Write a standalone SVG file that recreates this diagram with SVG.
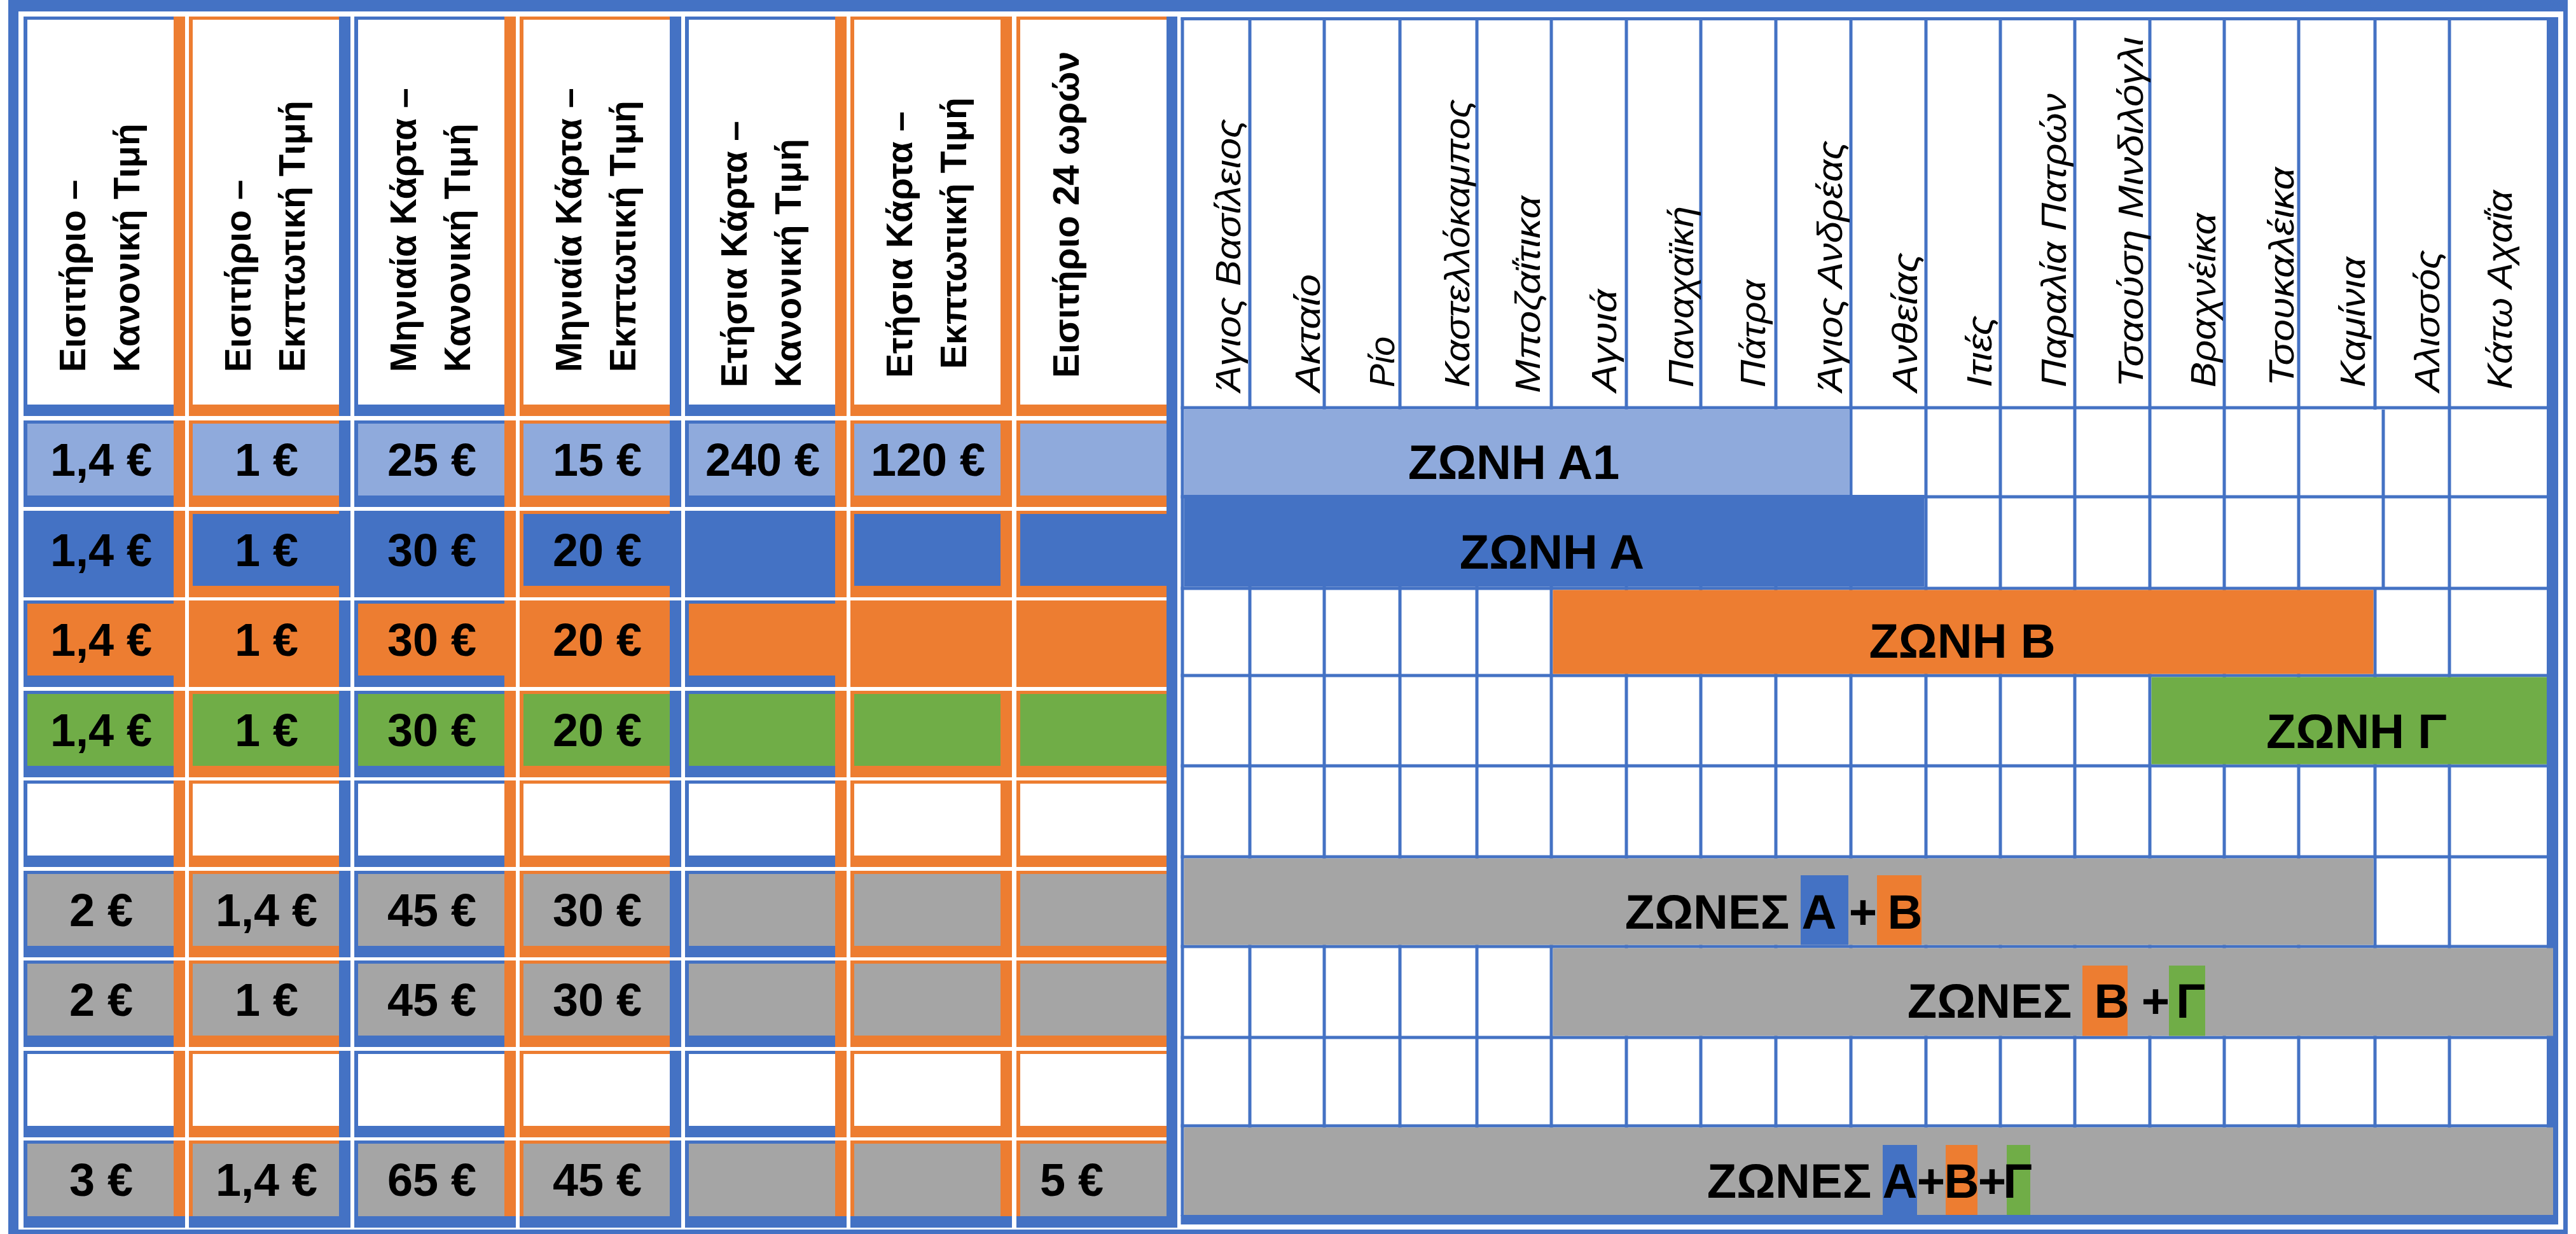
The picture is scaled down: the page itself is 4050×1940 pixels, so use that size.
<svg xmlns="http://www.w3.org/2000/svg" width="4050" height="1940" viewBox="0 0 4050 1940">
<style>
.b{fill:#4472C4}.o{fill:#ED7D31}.lb{fill:#8FAADC}.g{fill:#70AD47}.gy{fill:#A5A5A5}.w{fill:#FFFFFF}
.hd{font-family:"Liberation Sans","Noto Sans",sans-serif;font-weight:bold;font-size:57px;fill:#000}
.num{font-family:"Liberation Sans","Noto Sans",sans-serif;font-weight:bold;font-size:72px;fill:#000;text-anchor:middle}
.st{font-family:"Liberation Sans","Noto Sans",sans-serif;font-style:italic;font-size:56px;fill:#000}
.zl{font-family:"Liberation Sans","Noto Sans",sans-serif;font-weight:bold;font-size:76px;fill:#000;text-anchor:middle}
</style>
<rect width="4050" height="1940" fill="#FFFFFF"/>
<g id="frame">
<rect class="b" x="13" y="0" width="4024" height="18"/>
<rect class="b" x="13" y="0" width="16" height="1940"/>
<rect class="b" x="13" y="1933" width="4024" height="7"/>
<rect class="b" x="4030" y="0" width="7" height="1940"/>
</g>
<g id="left-table">
<g id="col1">
<rect class="b" x="37" y="26" width="254" height="1904"/>
<rect class="o" x="273" y="26" width="18" height="1904"/>
<rect class="w" x="43" y="31" width="230" height="605"/>
<rect class="lb" x="43" y="666" width="230" height="113"/>
<rect class="b" x="43" y="808" width="230" height="113"/>
<rect class="o" x="43" y="949" width="230" height="113"/>
<rect class="g" x="43" y="1091" width="230" height="113"/>
<rect class="w" x="43" y="1232" width="230" height="113"/>
<rect class="gy" x="43" y="1374" width="230" height="113"/>
<rect class="gy" x="43" y="1515" width="230" height="113"/>
<rect class="w" x="43" y="1657" width="230" height="113"/>
<rect class="gy" x="43" y="1798" width="230" height="114"/>
<rect class="b" x="37" y="1912" width="254" height="18"/>
</g>
<g id="col2">
<rect class="o" x="297" y="26" width="254" height="1904"/>
<rect class="b" x="533" y="26" width="18" height="1904"/>
<rect class="w" x="303" y="31" width="230" height="605"/>
<rect class="lb" x="303" y="666" width="230" height="113"/>
<rect class="b" x="303" y="808" width="230" height="113"/>
<rect class="o" x="303" y="949" width="230" height="113"/>
<rect class="g" x="303" y="1091" width="230" height="113"/>
<rect class="w" x="303" y="1232" width="230" height="113"/>
<rect class="gy" x="303" y="1374" width="230" height="113"/>
<rect class="gy" x="303" y="1515" width="230" height="113"/>
<rect class="w" x="303" y="1657" width="230" height="113"/>
<rect class="gy" x="303" y="1798" width="230" height="114"/>
<rect class="b" x="297" y="1912" width="254" height="18"/>
</g>
<g id="col3">
<rect class="b" x="557" y="26" width="254" height="1904"/>
<rect class="o" x="793" y="26" width="18" height="1904"/>
<rect class="w" x="563" y="31" width="230" height="605"/>
<rect class="lb" x="563" y="666" width="230" height="113"/>
<rect class="b" x="563" y="808" width="230" height="113"/>
<rect class="o" x="563" y="949" width="230" height="113"/>
<rect class="g" x="563" y="1091" width="230" height="113"/>
<rect class="w" x="563" y="1232" width="230" height="113"/>
<rect class="gy" x="563" y="1374" width="230" height="113"/>
<rect class="gy" x="563" y="1515" width="230" height="113"/>
<rect class="w" x="563" y="1657" width="230" height="113"/>
<rect class="gy" x="563" y="1798" width="230" height="114"/>
<rect class="b" x="557" y="1912" width="254" height="18"/>
</g>
<g id="col4">
<rect class="o" x="817" y="26" width="254" height="1904"/>
<rect class="b" x="1053" y="26" width="18" height="1904"/>
<rect class="w" x="823" y="31" width="230" height="605"/>
<rect class="lb" x="823" y="666" width="230" height="113"/>
<rect class="b" x="823" y="808" width="230" height="113"/>
<rect class="o" x="823" y="949" width="230" height="113"/>
<rect class="g" x="823" y="1091" width="230" height="113"/>
<rect class="w" x="823" y="1232" width="230" height="113"/>
<rect class="gy" x="823" y="1374" width="230" height="113"/>
<rect class="gy" x="823" y="1515" width="230" height="113"/>
<rect class="w" x="823" y="1657" width="230" height="113"/>
<rect class="gy" x="823" y="1798" width="230" height="114"/>
<rect class="b" x="817" y="1912" width="254" height="18"/>
</g>
<g id="col5">
<rect class="b" x="1077" y="26" width="254" height="1904"/>
<rect class="o" x="1313" y="26" width="18" height="1904"/>
<rect class="w" x="1083" y="31" width="230" height="605"/>
<rect class="lb" x="1083" y="666" width="230" height="113"/>
<rect class="b" x="1083" y="808" width="230" height="113"/>
<rect class="o" x="1083" y="949" width="230" height="113"/>
<rect class="g" x="1083" y="1091" width="230" height="113"/>
<rect class="w" x="1083" y="1232" width="230" height="113"/>
<rect class="gy" x="1083" y="1374" width="230" height="113"/>
<rect class="gy" x="1083" y="1515" width="230" height="113"/>
<rect class="w" x="1083" y="1657" width="230" height="113"/>
<rect class="gy" x="1083" y="1798" width="230" height="114"/>
<rect class="b" x="1077" y="1912" width="254" height="18"/>
</g>
<g id="col6">
<rect class="o" x="1337" y="26" width="254" height="1904"/>
<rect class="w" x="1343" y="31" width="230" height="605"/>
<rect class="lb" x="1343" y="666" width="230" height="113"/>
<rect class="b" x="1343" y="808" width="230" height="113"/>
<rect class="o" x="1343" y="949" width="230" height="113"/>
<rect class="g" x="1343" y="1091" width="230" height="113"/>
<rect class="w" x="1343" y="1232" width="230" height="113"/>
<rect class="gy" x="1343" y="1374" width="230" height="113"/>
<rect class="gy" x="1343" y="1515" width="230" height="113"/>
<rect class="w" x="1343" y="1657" width="230" height="113"/>
<rect class="gy" x="1343" y="1798" width="230" height="114"/>
<rect class="b" x="1337" y="1912" width="254" height="18"/>
</g>
<g id="col7">
<rect class="o" x="1598" y="26" width="236" height="1904"/>
<rect class="w" x="1604" y="31" width="230" height="605"/>
<rect class="lb" x="1604" y="666" width="230" height="113"/>
<rect class="b" x="1604" y="808" width="230" height="113"/>
<rect class="o" x="1604" y="949" width="230" height="113"/>
<rect class="g" x="1604" y="1091" width="230" height="113"/>
<rect class="w" x="1604" y="1232" width="230" height="113"/>
<rect class="gy" x="1604" y="1374" width="230" height="113"/>
<rect class="gy" x="1604" y="1515" width="230" height="113"/>
<rect class="w" x="1604" y="1657" width="230" height="113"/>
<rect class="gy" x="1604" y="1798" width="230" height="114"/>
<rect class="b" x="1598" y="1912" width="236" height="18"/>
</g>
<g id="row-gaps" fill="#FFFFFF">
<rect x="30" y="654" width="1804" height="7"/>
<rect x="30" y="797" width="1804" height="6"/>
<rect x="30" y="939" width="1804" height="5"/>
<rect x="30" y="1080" width="1804" height="6"/>
<rect x="30" y="1222" width="1804" height="5"/>
<rect x="30" y="1363" width="1804" height="6"/>
<rect x="30" y="1505" width="1804" height="5"/>
<rect x="30" y="1646" width="1804" height="6"/>
<rect x="30" y="1788" width="1804" height="5"/>
</g>
<rect id="separator" class="b" x="1834" y="26" width="17" height="1904"/>
<g id="left-headers">
<text class="hd" transform="translate(134,585) rotate(-90)">Εισιτήριο –</text>
<text class="hd" transform="translate(219,585) rotate(-90)">Κανονική Τιμή</text>
<text class="hd" transform="translate(394,585) rotate(-90)">Εισιτήριο –</text>
<text class="hd" transform="translate(479,585) rotate(-90)">Εκπτωτική Τιμή</text>
<text class="hd" transform="translate(654,585) rotate(-90)">Μηνιαία Κάρτα –</text>
<text class="hd" transform="translate(739,585) rotate(-90)">Κανονική Τιμή</text>
<text class="hd" transform="translate(914,585) rotate(-90)">Μηνιαία Κάρτα –</text>
<text class="hd" transform="translate(999,585) rotate(-90)">Εκπτωτική Τιμή</text>
<text class="hd" transform="translate(1174,609) rotate(-90)">Ετήσια Κάρτα –</text>
<text class="hd" transform="translate(1259,609) rotate(-90)">Κανονική Τιμή</text>
<text class="hd" transform="translate(1434,594) rotate(-90)">Ετήσια Κάρτα –</text>
<text class="hd" transform="translate(1519,580) rotate(-90)">Εκπτωτική Τιμή</text>
<text class="hd" transform="translate(1696,594) rotate(-90)">Εισιτήριο 24 ωρών</text>
</g>
<g id="left-values">
<text class="num" x="159" y="748">1,4 €</text>
<text class="num" x="419" y="748">1 €</text>
<text class="num" x="679" y="748">25 €</text>
<text class="num" x="939" y="748">15 €</text>
<text class="num" x="1199" y="748">240 €</text>
<text class="num" x="1459" y="748">120 €</text>
<text class="num" x="159" y="890">1,4 €</text>
<text class="num" x="419" y="890">1 €</text>
<text class="num" x="679" y="890">30 €</text>
<text class="num" x="939" y="890">20 €</text>
<text class="num" x="159" y="1031">1,4 €</text>
<text class="num" x="419" y="1031">1 €</text>
<text class="num" x="679" y="1031">30 €</text>
<text class="num" x="939" y="1031">20 €</text>
<text class="num" x="159" y="1173">1,4 €</text>
<text class="num" x="419" y="1173">1 €</text>
<text class="num" x="679" y="1173">30 €</text>
<text class="num" x="939" y="1173">20 €</text>
<text class="num" x="159" y="1456">2 €</text>
<text class="num" x="419" y="1456">1,4 €</text>
<text class="num" x="679" y="1456">45 €</text>
<text class="num" x="939" y="1456">30 €</text>
<text class="num" x="159" y="1597">2 €</text>
<text class="num" x="419" y="1597">1 €</text>
<text class="num" x="679" y="1597">45 €</text>
<text class="num" x="939" y="1597">30 €</text>
<text class="num" x="159" y="1880">3 €</text>
<text class="num" x="419" y="1880">1,4 €</text>
<text class="num" x="679" y="1880">65 €</text>
<text class="num" x="939" y="1880">45 €</text>
<text class="num" x="1685" y="1880">5 €</text>
</g>
</g>
<g id="right-table">
<g id="grid" class="b">
<rect x="1856.5" y="27" width="5" height="1885"/>
<rect x="1962.5" y="27" width="5" height="1885"/>
<rect x="2079.5" y="27" width="5" height="1885"/>
<rect x="2198.5" y="27" width="5" height="1885"/>
<rect x="2319.5" y="27" width="5" height="1885"/>
<rect x="2436.5" y="27" width="5" height="1885"/>
<rect x="2554.5" y="27" width="5" height="1885"/>
<rect x="2671.5" y="27" width="5" height="1885"/>
<rect x="2789.5" y="27" width="5" height="1885"/>
<rect x="2907.5" y="27" width="5" height="1885"/>
<rect x="3025.5" y="27" width="5" height="1885"/>
<rect x="3142.5" y="27" width="5" height="1885"/>
<rect x="3259.5" y="27" width="5" height="1885"/>
<rect x="3377.5" y="27" width="5" height="1885"/>
<rect x="3494.5" y="27" width="5" height="1885"/>
<rect x="3611.5" y="27" width="5" height="1885"/>
<rect x="3731.5" y="27" width="5" height="617"/>
<rect x="3744.5" y="644" width="5" height="279"/>
<rect x="3731.5" y="923" width="5" height="989"/>
<rect x="3848.5" y="27" width="5" height="1885"/>
<rect x="1856.5" y="27" width="2150" height="5"/>
<rect x="1856.5" y="638.5" width="2150" height="5"/>
<rect x="1856.5" y="778.5" width="2150" height="5"/>
<rect x="1856.5" y="922.5" width="2150" height="5"/>
<rect x="1856.5" y="1059.5" width="2150" height="5"/>
<rect x="1856.5" y="1201.5" width="2150" height="5"/>
<rect x="1856.5" y="1344.5" width="2150" height="5"/>
<rect x="1856.5" y="1485.5" width="2150" height="5"/>
<rect x="1856.5" y="1628.5" width="2150" height="5"/>
<rect x="1856.5" y="1767.5" width="2150" height="5"/>
<rect x="4004" y="27" width="18" height="1898"/>
</g>
<g id="zone-a1"><rect class="lb" x="1861.5" y="643.5" width="1046" height="134.5"/><text class="zl" x="2380" y="753">ΖΩΝΗ Α1</text></g>
<g id="zone-a"><rect class="b" x="1861.5" y="778" width="1164" height="144.5"/><text class="zl" x="2440" y="894">ΖΩΝΗ Α</text></g>
<g id="zone-b"><rect class="o" x="2441.5" y="927.5" width="1290" height="132"/><text class="zl" x="3085" y="1034">ΖΩΝΗ Β</text></g>
<g id="zone-g"><rect class="g" x="3382.5" y="1064.5" width="621.5" height="137"/><text class="zl" x="3705" y="1176">ΖΩΝΗ Γ</text></g>
<g id="zones-ab">
<rect class="gy" x="1861.5" y="1349.5" width="1870" height="136"/>
<rect class="b" x="2831" y="1376" width="75" height="109.5"/>
<rect class="o" x="2951" y="1376" width="70" height="109.5"/>
<text class="zl" y="1460"><tspan x="2684">ΖΩΝΕΣ</tspan><tspan x="2860">Α</tspan><tspan x="2929">+</tspan><tspan x="2995">Β</tspan></text>
</g>
<g id="zones-bg">
<rect class="gy" x="2441.5" y="1490.5" width="1572.5" height="138"/>
<rect class="o" x="3274" y="1518" width="71" height="110.5"/>
<rect class="g" x="3410" y="1518" width="57" height="110.5"/>
<text class="zl" y="1600"><tspan x="3128">ΖΩΝΕΣ</tspan><tspan x="3320">Β</tspan><tspan x="3389">+</tspan><tspan x="3444">Γ</tspan></text>
</g>
<g id="zones-abg">
<rect class="gy" x="1861.5" y="1772.5" width="2152.5" height="137.5"/>
<rect class="b" x="2960" y="1800" width="54" height="110"/>
<rect class="o" x="3059" y="1800" width="50" height="110"/>
<rect class="g" x="3155" y="1800" width="37" height="110"/>
<text class="zl" y="1883"><tspan x="2813">ΖΩΝΕΣ</tspan><tspan x="2987">Α</tspan><tspan x="3036">+</tspan><tspan x="3084">Β</tspan><tspan x="3132">+</tspan><tspan x="3172">Γ</tspan></text>
</g>
<rect id="right-bottom" class="b" x="1856.5" y="1910" width="2165.5" height="15"/>
<g id="stations">
<text class="st" transform="translate(1950,616) rotate(-90)" textLength="429" lengthAdjust="spacingAndGlyphs">Άγιος Βασίλειος</text>
<text class="st" transform="translate(2075,616) rotate(-90)" textLength="185" lengthAdjust="spacingAndGlyphs">Ακταίο</text>
<text class="st" transform="translate(2192,609) rotate(-90)" textLength="80" lengthAdjust="spacingAndGlyphs">Ρίο</text>
<text class="st" transform="translate(2310,609) rotate(-90)" textLength="453" lengthAdjust="spacingAndGlyphs">Καστελλόκαμπος</text>
<text class="st" transform="translate(2421,618) rotate(-90)" textLength="310" lengthAdjust="spacingAndGlyphs">Μποζαΐτικα</text>
<text class="st" transform="translate(2541,616) rotate(-90)" textLength="161" lengthAdjust="spacingAndGlyphs">Αγυιά</text>
<text class="st" transform="translate(2662,609) rotate(-90)" textLength="285" lengthAdjust="spacingAndGlyphs">Παναχαϊκή</text>
<text class="st" transform="translate(2775,609) rotate(-90)" textLength="169" lengthAdjust="spacingAndGlyphs">Πάτρα</text>
<text class="st" transform="translate(2896,616) rotate(-90)" textLength="395" lengthAdjust="spacingAndGlyphs">Άγιος Ανδρέας</text>
<text class="st" transform="translate(3014,616) rotate(-90)" textLength="219" lengthAdjust="spacingAndGlyphs">Ανθείας</text>
<text class="st" transform="translate(3131,609) rotate(-90)" textLength="113" lengthAdjust="spacingAndGlyphs">Ιτιές</text>
<text class="st" transform="translate(3248,609) rotate(-90)" textLength="462" lengthAdjust="spacingAndGlyphs">Παραλία Πατρών</text>
<text class="st" transform="translate(3369,609) rotate(-90)" textLength="551" lengthAdjust="spacingAndGlyphs">Τσαούση Μινδιλόγλι</text>
<text class="st" transform="translate(3483,609) rotate(-90)" textLength="274" lengthAdjust="spacingAndGlyphs">Βραχνέικα</text>
<text class="st" transform="translate(3606,607) rotate(-90)" textLength="344" lengthAdjust="spacingAndGlyphs">Τσουκαλέικα</text>
<text class="st" transform="translate(3718,609) rotate(-90)" textLength="205" lengthAdjust="spacingAndGlyphs">Καμίνια</text>
<text class="st" transform="translate(3835,616) rotate(-90)" textLength="223" lengthAdjust="spacingAndGlyphs">Αλισσός</text>
<text class="st" transform="translate(3949,612) rotate(-90)" textLength="313" lengthAdjust="spacingAndGlyphs">Κάτω Αχαΐα</text>
</g>
</g>
</svg>
